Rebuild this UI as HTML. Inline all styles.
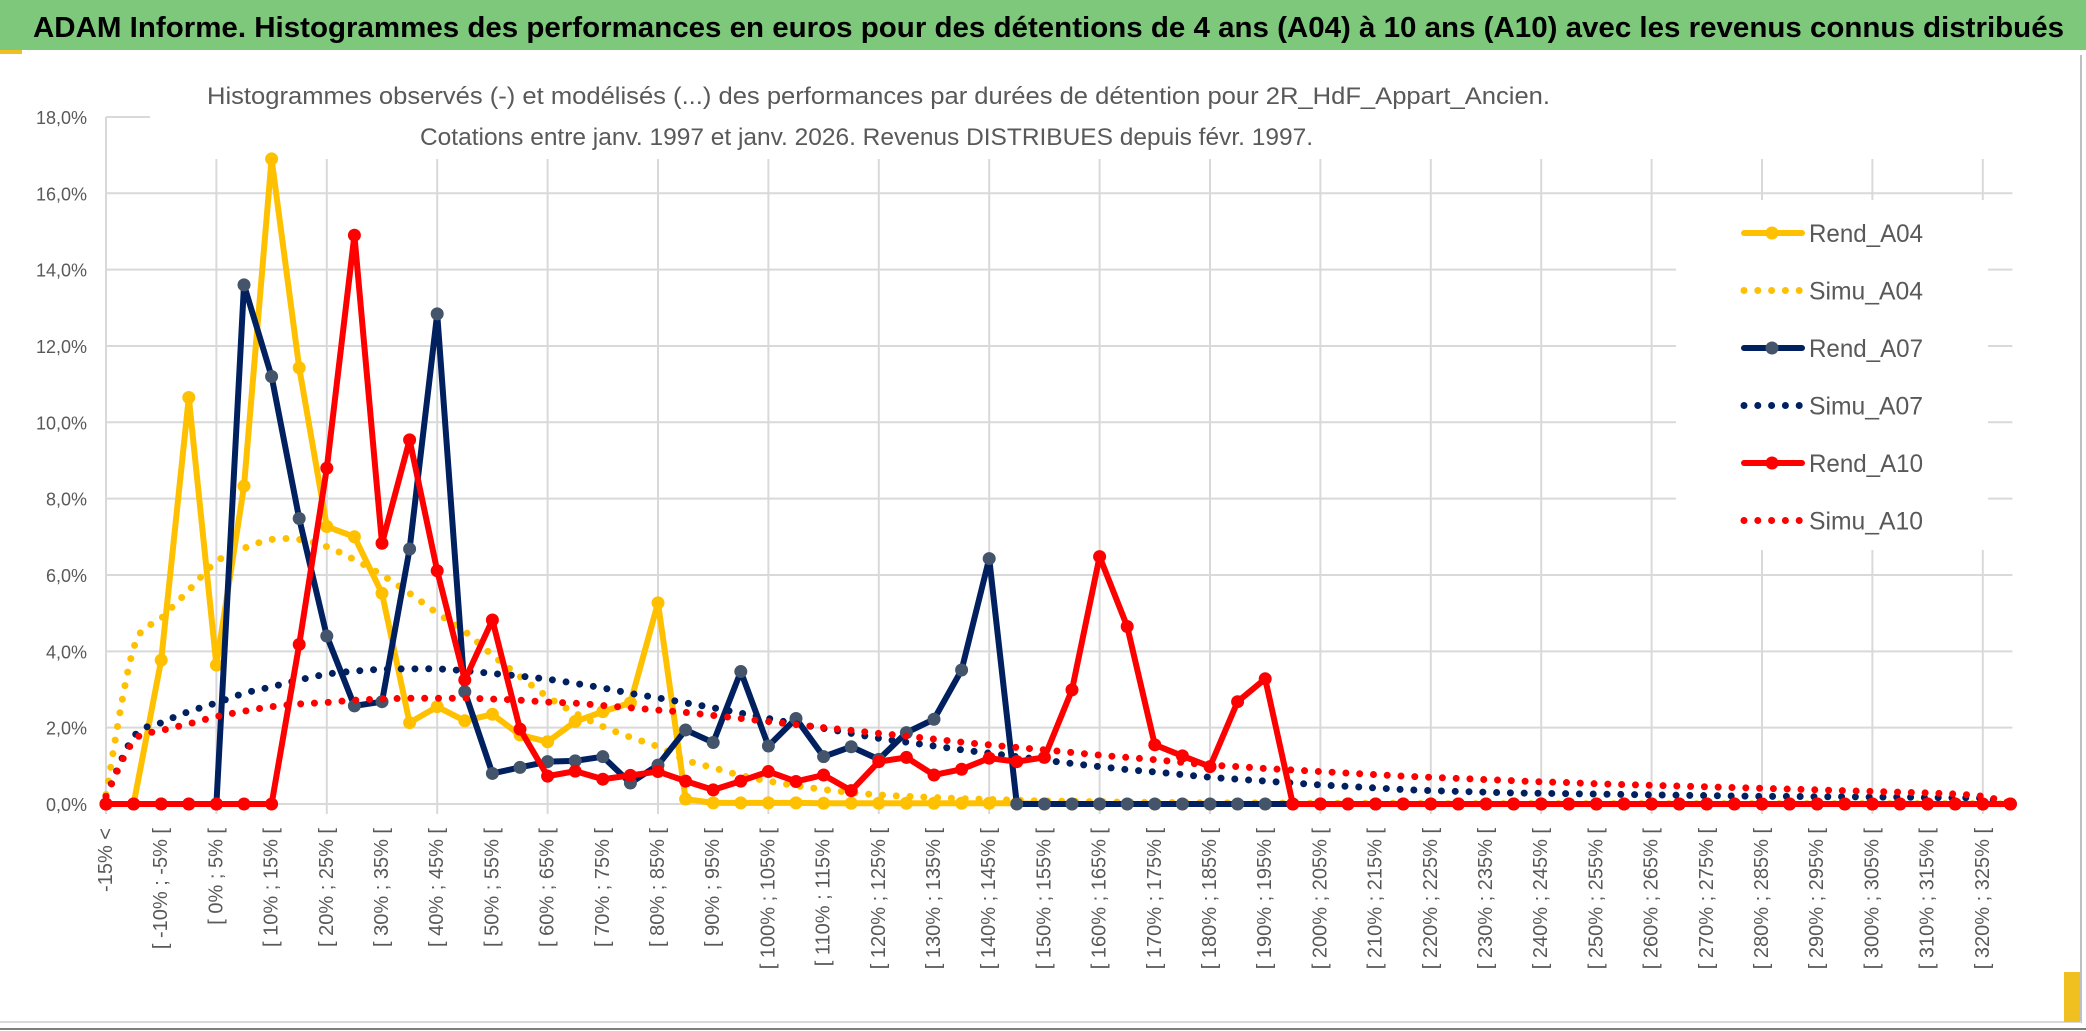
<!DOCTYPE html>
<html><head><meta charset="utf-8"><style>
html,body{margin:0;padding:0;background:#fff;}
svg{display:block;}
</style></head><body>
<svg id="chart" width="2086" height="1031" xmlns="http://www.w3.org/2000/svg" font-family="'Liberation Sans', sans-serif">
<rect x="0" y="0" width="2086" height="1031" fill="#fff"/>
<rect x="0" y="0" width="2086" height="50" fill="#7dc87b"/>
<rect x="0" y="50" width="22" height="4" fill="#f0c020"/>
<text x="33" y="37" font-size="29" font-weight="bold" fill="#000" textLength="2031" lengthAdjust="spacingAndGlyphs">ADAM Informe. Histogrammes des performances en euros pour des détentions de 4 ans (A04) à 10 ans (A10) avec les revenus connus distribués</text>
<line x1="2081" y1="55" x2="2081" y2="1023" stroke="#bfbfbf" stroke-width="2"/>
<line x1="0" y1="1022" x2="2081" y2="1022" stroke="#d9d9d9" stroke-width="2"/>
<line x1="0" y1="1029" x2="2086" y2="1029" stroke="#7f7f7f" stroke-width="2"/>
<rect x="2064" y="972" width="16" height="50" fill="#f0c020"/>
<g id="grid"></g>
<rect x="150" y="80" width="1870" height="79" fill="#fff"/>
<text x="207" y="104" font-size="24" fill="#595959" textLength="1343" lengthAdjust="spacingAndGlyphs">Histogrammes observés (-) et modélisés (...) des performances par durées de détention pour 2R_HdF_Appart_Ancien.</text>
<text x="420" y="145" font-size="24" fill="#595959" textLength="893" lengthAdjust="spacingAndGlyphs">Cotations entre janv. 1997 et janv. 2026. Revenus DISTRIBUES depuis févr. 1997.</text>
<g id="ylabels"></g>
<g id="xlabels"></g>
<g id="series"></g>
<rect x="1676" y="200" width="312" height="350" fill="#fff"/>
<g id="legend"></g>
</svg>
<script>
const categoriesLast = 69;
const yTicks = [0,2,4,6,8,10,12,14,16,18];
const rendA04 = [0,0,3.77,10.65,3.64,8.33,16.9,11.43,7.27,7.0,5.52,2.13,2.55,2.18,2.35,1.81,1.63,2.16,2.42,2.65,5.27,0.13,0.03,0.03,0.03,0.03,0.02,0.02,0.02,0.02,0.02,0.02,0.02,0.02,0,0,0,0,0,0,0,0,0,0,0,0,0,0,0,0,0,0,0,0,0,0,0,0,0,0,0,0,0,0,0,0,0,0,0,0];
const simuA04 = [0.25,4.08,4.86,5.6,6.35,6.7,6.93,6.93,6.74,6.4,6.0,5.52,5.0,4.52,3.9,3.34,2.81,2.38,2.03,1.75,1.5,1.15,0.95,0.75,0.6,0.48,0.38,0.3,0.24,0.2,0.17,0.14,0.12,0.1,0.08,0.07,0.06,0.05,0.04,0.04,0.03,0.03,0.03,0.02,0.02,0.02,0.02,0.02,0.01,0.01,0.01,0.01,0.01,0.01,0.01,0.01,0.01,0.01,0.01,0.01,0.01,0.01,0.01,0.01,0.01,0.01,0.01,0.01,0.01,0];
const rendA07 = [0,0,0,0,0,13.6,11.2,7.48,4.4,2.57,2.68,6.68,12.84,2.94,0.8,0.96,1.11,1.13,1.24,0.55,1.02,1.94,1.61,3.47,1.52,2.24,1.24,1.5,1.17,1.87,2.22,3.51,6.43,0,0,0,0,0,0,0,0,0,0,0,0,0,0,0,0,0,0,0,0,0,0,0,0,0,0,0,0,0,0,0,0,0,0,0,0,0];
const simuA07 = [0.2,1.76,2.13,2.42,2.65,2.9,3.07,3.25,3.4,3.48,3.53,3.54,3.54,3.49,3.42,3.35,3.27,3.16,3.04,2.9,2.78,2.65,2.52,2.38,2.24,2.1,1.98,1.85,1.72,1.62,1.52,1.42,1.33,1.24,1.15,1.06,0.98,0.9,0.84,0.77,0.7,0.65,0.6,0.55,0.5,0.46,0.42,0.38,0.35,0.33,0.31,0.29,0.28,0.27,0.26,0.25,0.24,0.23,0.22,0.21,0.2,0.2,0.19,0.19,0.18,0.18,0.17,0.16,0.15,0.02];
const rendA10 = [0,0,0,0,0,0,0,4.18,8.8,14.9,6.83,9.54,6.11,3.25,4.82,1.96,0.73,0.86,0.65,0.75,0.85,0.6,0.37,0.6,0.85,0.59,0.76,0.35,1.11,1.22,0.76,0.91,1.2,1.11,1.22,2.99,6.48,4.65,1.55,1.26,0.98,2.68,3.28,0,0,0,0,0,0,0,0,0,0,0,0,0,0,0,0,0,0,0,0,0,0,0,0,0,0,0];
const simuA10 = [0.2,1.65,1.92,2.1,2.29,2.43,2.55,2.62,2.66,2.72,2.75,2.77,2.77,2.77,2.75,2.72,2.67,2.64,2.58,2.52,2.46,2.4,2.32,2.24,2.16,2.08,2.0,1.93,1.85,1.78,1.7,1.62,1.55,1.48,1.42,1.35,1.28,1.22,1.16,1.09,1.02,0.98,0.93,0.89,0.85,0.81,0.77,0.73,0.7,0.67,0.64,0.61,0.58,0.56,0.53,0.51,0.49,0.47,0.45,0.43,0.41,0.39,0.37,0.35,0.33,0.31,0.29,0.26,0.2,0.03];

const NS = "http://www.w3.org/2000/svg";
const X0 = 106, DX = 27.6, Y0 = 804, PPU = 38.17;
function xPos(i){ return X0 + DX*i; }
function yPos(v){ return Y0 - v*PPU; }
function el(tag, attrs, parent){
  const e = document.createElementNS(NS, tag);
  for (const k in attrs) e.setAttribute(k, attrs[k]);
  parent.appendChild(e);
  return e;
}
function catLabel(i){
  if (i===0) return "-15% <";
  const lo = -15 + 5*(i-1);
  return "[ " + lo + "% ; " + (lo+5) + "% [";
}
const grid = document.getElementById('grid');
const xRight = xPos(categoriesLast) + 2;
yTicks.forEach(t => {
  const l = el('line', {x1:X0, x2:xRight, y1:yPos(t), y2:yPos(t), stroke:'#d9d9d9', 'stroke-width':2}, grid);
  
  
});
for (let i=0;i<=categoriesLast;i+=4){
  const l = el('line', {x1:xPos(i), x2:xPos(i), y1:yPos(18), y2:Y0+10, stroke:'#d9d9d9', 'stroke-width':2}, grid);
  
  
}
const yl = document.getElementById('ylabels');
yTicks.forEach(t => {
  const tx = el('text', {x:87, y:yPos(t)+7, 'font-size':18, fill:'#595959', 'text-anchor':'end'}, yl);
  
  
  tx.textContent = t.toFixed(1).replace('.', ',') + '%';
});
const xl = document.getElementById('xlabels');
for (let i=0;i<=categoriesLast;i+=2){
  const x = xPos(i), y = 828;
  const tx = el('text', {x:x, y:y, 'font-size':20, fill:'#595959', 'text-anchor':'end', 'dominant-baseline':'central', transform:'rotate(-90 '+x+' '+y+')'}, xl);
  
  
  tx.textContent = catLabel(i);
}
function smoothPath(vals){
  const p = vals.map((v,i)=>[xPos(i), yPos(v)]);
  let d = 'M'+p[0][0]+','+p[0][1];
  for (let i=0;i<p.length-1;i++){
    const p0 = p[i-1]||p[i], p1=p[i], p2=p[i+1], p3=p[i+2]||p[i+1];
    const c1x = p1[0]+(p2[0]-p0[0])/6, c1y = p1[1]+(p2[1]-p0[1])/6;
    const c2x = p2[0]-(p3[0]-p1[0])/6, c2y = p2[1]-(p3[1]-p1[1])/6;
    d += ' C'+c1x+','+c1y+' '+c2x+','+c2y+' '+p2[0]+','+p2[1];
  }
  return d;
}
const sg = document.getElementById('series');
function drawRend(vals, color, markerColor, name){
  const g = el('g', {}, sg);
  
  
  const pts = vals.map((v,i)=>xPos(i)+','+yPos(v)).join(' ');
  el('polyline', {points:pts, fill:'none', stroke:color, 'stroke-width':6, 'stroke-linejoin':'round'}, g);
  vals.forEach((v,i)=>{
    const c = el('circle', {cx:xPos(i), cy:yPos(v), r:6.5, fill:markerColor}, g);
    
    
  });
}
function drawSimu(vals, color, name){
  const p = el('path', {d:smoothPath(vals), fill:'none', stroke:color, 'stroke-width':7, 'stroke-linecap':'round', 'stroke-dasharray':'0 13.8'}, sg);
  
  
}
drawRend(rendA04, '#ffc000', '#ffc000', 'rend-a04-line');
drawSimu(simuA04, '#ffc000', 'simu-a04-line');
drawRend(rendA07, '#002060', '#44546a', 'rend-a07-line');
drawSimu(simuA07, '#002060', 'simu-a07-line');
drawRend(rendA10, '#ff0000', '#ff0000', 'rend-a10-line');
drawSimu(simuA10, '#ff0000', 'simu-a10-line');

const lg = document.getElementById('legend');
const legendNames = ['Rend_A04','Simu_A04','Rend_A07','Simu_A07','Rend_A10','Simu_A10'];
const legendColors = ['#ffc000','#ffc000','#002060','#002060','#ff0000','#ff0000'];
const legendMarkers = ['#ffc000',null,'#44546a',null,'#ff0000',null];
legendNames.forEach((n,k)=>{
  const y = 233 + k*57.5;
  const g = el('g', {}, lg);
  
  
  if (legendMarkers[k]){
    el('line', {x1:1744, x2:1802, y1:y, y2:y, stroke:legendColors[k], 'stroke-width':6, 'stroke-linecap':'round'}, g);
    el('circle', {cx:1772, cy:y, r:6.5, fill:legendMarkers[k]}, g);
  } else {
    el('line', {x1:1744, x2:1802, y1:y, y2:y, stroke:legendColors[k], 'stroke-width':7, 'stroke-linecap':'round', 'stroke-dasharray':'0 13.8'}, g);
  }
  const t = el('text', {x:1809, y:y+9, 'font-size':25, fill:'#595959', textLength:114, lengthAdjust:'spacingAndGlyphs'}, g);
  
  
  t.textContent = n;
});
</script>
</body></html>
